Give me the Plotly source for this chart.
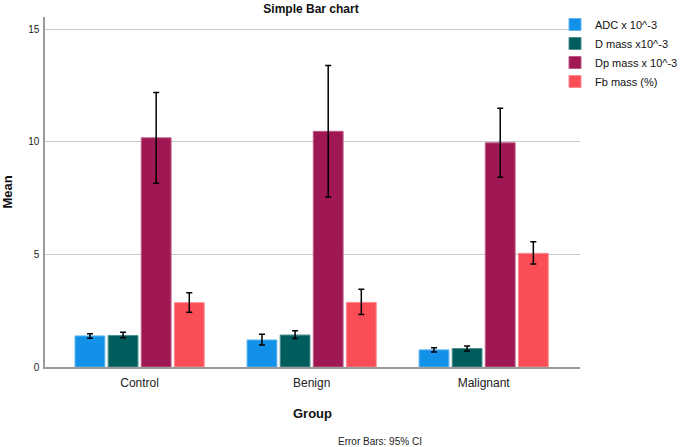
import plotly.graph_objects as go

groups = ["Control", "Benign", "Malignant"]
series_names = ["ADC x 10^-3", "D mass x10^-3", "Dp mass x 10^-3", "Fb mass (%)"]
colors = ["#1192E8", "#005D5D", "#9F1853", "#FA4D56"]
outlines = ["#5fb3f0", "#4d8e8e", "#bb5a85", "#fc8a90"]

adc_mean = [1.38, 1.20, 0.76]
adc_hi = [1.48, 1.45, 0.86]
adc_lo = [1.28, 0.98, 0.67]

d_mean = [1.40, 1.42, 0.82]
d_hi = [1.54, 1.61, 0.93]
d_lo = [1.30, 1.27, 0.71]

dp_mean = [10.18, 10.47, 9.96]
dp_hi = [12.20, 13.40, 11.50]
dp_lo = [8.16, 7.55, 8.43]

fb_mean = [2.86, 2.87, 5.05]
fb_hi = [3.30, 3.45, 5.56]
fb_lo = [2.43, 2.33, 4.58]

means = [adc_mean, d_mean, dp_mean, fb_mean]
his = [adc_hi, d_hi, dp_hi, fb_hi]
los = [adc_lo, d_lo, dp_lo, fb_lo]

fig = go.Figure()
for name, m, hi, lo, c, oc in zip(series_names, means, his, los, colors, outlines):
    fig.add_trace(go.Bar(
        x=groups, y=m, name=name,
        marker=dict(color=c, line=dict(color=oc, width=1)),
        error_y=dict(type="data", symmetric=False,
                     array=[h - v for h, v in zip(hi, m)],
                     arrayminus=[v - l for v, l in zip(m, lo)],
                     color="black", thickness=1.5, width=3),
    ))

fig.update_layout(
    width=685, height=447,
    margin=dict(l=45, r=105, t=17, b=80, autoexpand=False),
    paper_bgcolor="white", plot_bgcolor="white",
    barmode="group", bargap=0.23, bargroupgap=0.1,
    font=dict(family="Arial, Liberation Sans, sans-serif", color="#222222"),
    title=dict(text="<b>Simple Bar chart</b>", x=311/685, xanchor="center",
               y=1 - 9/447, yanchor="middle", font=dict(size=12, color="#111111")),
    showlegend=True,
    legend=dict(xref="container", yref="container", x=555/685, y=1 - 10/447,
                xanchor="left", yanchor="top",
                font=dict(size=11, color="#111111"), tracegroupgap=0,
                itemwidth=30, bgcolor="rgba(0,0,0,0)"),
    xaxis=dict(title=dict(text="<b>Group</b>", font=dict(size=13, color="#111111"), standoff=20),
               range=[-0.55, 2.56], automargin=False,
               showline=True, linecolor="#9a9a9a", linewidth=1.5,
               ticks="", ticklabelstandoff=4, tickfont=dict(size=12, color="#222222")),
    yaxis=dict(title=dict(text="<b>Mean</b>", font=dict(size=13, color="#111111"), standoff=16),
               range=[0, 15.55], tickvals=[0, 5, 10, 15], automargin=False,
               showgrid=True, gridcolor="#c8c8c8", gridwidth=1,
               showline=True, linecolor="#9a9a9a", linewidth=1.5,
               zeroline=False, ticks="", ticklabelstandoff=2,
               tickfont=dict(size=10, color="#222222")),
)

fig.add_annotation(text="Error Bars: 95% CI", x=(380 - 45) / 535, y=(367 - 441) / 350,
                   xref="paper", yref="paper", showarrow=False,
                   xanchor="center", yanchor="middle",
                   font=dict(size=10, color="#222222"))

fig.write_html("out.html", config={"displayModeBar": False},
               post_script="document.body.style.margin='0';")
